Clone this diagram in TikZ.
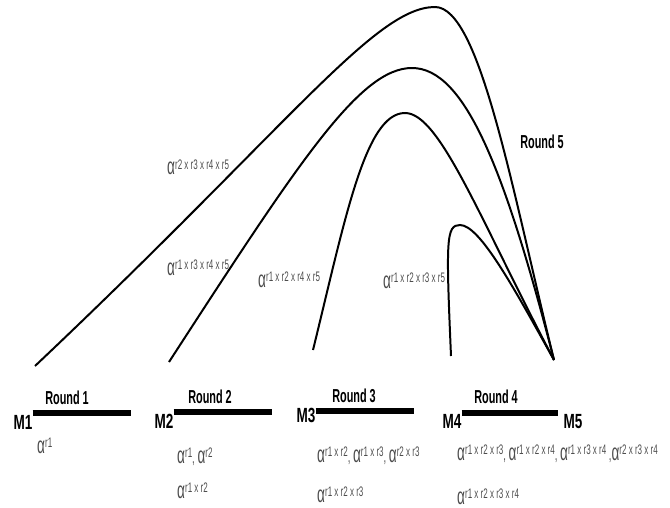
\documentclass[tikz,border=0pt]{standalone}
\usepackage{fontspec}
\setmainfont{Liberation Sans}
\newfontfamily\narrowfont[FakeStretch=0.58]{Liberation Sans}
\newfontfamily\machfont[FakeStretch=0.66]{Liberation Sans}
\usepackage{xcolor}
\definecolor{labelgray}{HTML}{4D4D4D}
% alpha with its raised index
\newcommand{\alp}[1]{{\fontsize{20}{20}\selectfont α}\raisebox{4.5pt}{\fontsize{11.8}{11.8}\selectfont #1}}

\begin{document}
\begin{tikzpicture}[x=0.03cm, y=-0.03cm,
        roundlab/.style={font=\narrowfont\bfseries\fontsize{16}{16}\selectfont, inner sep=0, anchor=base},
        mach/.style={font=\machfont\bfseries\fontsize{17.5}{17.5}\selectfont, inner sep=0, anchor=base},
        alab/.style={font=\narrowfont\fontsize{14}{14}\selectfont, text=labelgray, inner sep=0, anchor=base west},
        bar/.style={line width=5.5pt},
        link/.style={line width=1.7pt}]
        \useasboundingbox (0,0) rectangle (670,508);

        % machines and rounds
        \node[mach] (m1) at (23,429) {M1};
        \node[mach] (m2) at (164,428) {M2};
        \node[mach] (m3) at (306,422) {M3};
        \node[mach] (m4) at (452,428) {M4};
        \node[mach] (m5) at (573,428) {M5};
        \coordinate (b1) at (131,413);
        \coordinate (b2) at (272,412);
        \coordinate (b3) at (414,411);
        \coordinate (b4) at (558,413);
        \draw[bar] (m1.east |- b1) -- (b1);
        \draw[bar] (m2.east |- b2) -- (b2);
        \draw[bar] (m3.east |- b3) -- (b3);
        \draw[bar] (m4.east |- b4) -- (b4);
        \node[roundlab] (r1) at (67,404) {Round 1};
        \node[roundlab] (r2) at (210,403) {Round 2};
        \node[roundlab] (r3) at (354,402) {Round 3};
        \node[roundlab] (r4) at (496,403) {Round 4};
        \node[roundlab] (r5) at (542,149) {Round 5};

        % round 5 links
        \coordinate (s1) at (35,366);
        \coordinate (s2) at (169,362);
        \coordinate (s3) at (313,350);
        \coordinate (s4) at (451,356);
        \coordinate (fin) at (554,360);
        \draw[link] (s1) .. controls (290,125) and (375,7) .. (435,7) .. controls (480,7) and (512,190) .. (fin);
        \draw[link] (s2) .. controls (300,160) and (360,68) .. (412,68) .. controls (465,68) and (505,170) .. (fin);
        \draw[link] (s3) .. controls (345,220) and (365,113) .. (405,113) .. controls (440,113) and (480,220) .. (fin);
        \draw[link] (s4) .. controls (446,240) and (446,225) .. (460,225) .. controls (480,225) and (515,290) .. (fin);

        % labels
        \node[alab] (a1) at (37,453) {\alp{r1}};
        \node[alab] (a2) at (177,463) {\alp{r1}, \alp{r2}};
        \node[alab] (a3) at (177,498) {\alp{r1 x r2}};
        \node[alab] (a4) at (317,462) {\alp{r1 x r2}, \alp{r1 x r3}, \alp{r2 x r3}};
        \node[alab] (a5) at (317,502) {\alp{r1 x r2 x r3}};
        \node[alab] (a6) at (457,460) {\alp{r1 x r2 x r3}, \alp{r1 x r2 x r4}, \alp{r1 x r3 x r4} ,\alp{r2 x r3 x r4}};
        \node[alab] (a7) at (457,504) {\alp{r1 x r2 x r3 x r4}};
        \node[alab] (a8) at (167,175) {\alp{r2 x r3 x r4 x r5}};
        \node[alab] (a9) at (167,275) {\alp{r1 x r3 x r4 x r5}};
        \node[alab] (a10) at (258,287) {\alp{r1 x r2 x r4 x r5}};
        \node[alab] (a11) at (383,288) {\alp{r1 x r2 x r3 x r5}};
\end{tikzpicture}
\end{document}
